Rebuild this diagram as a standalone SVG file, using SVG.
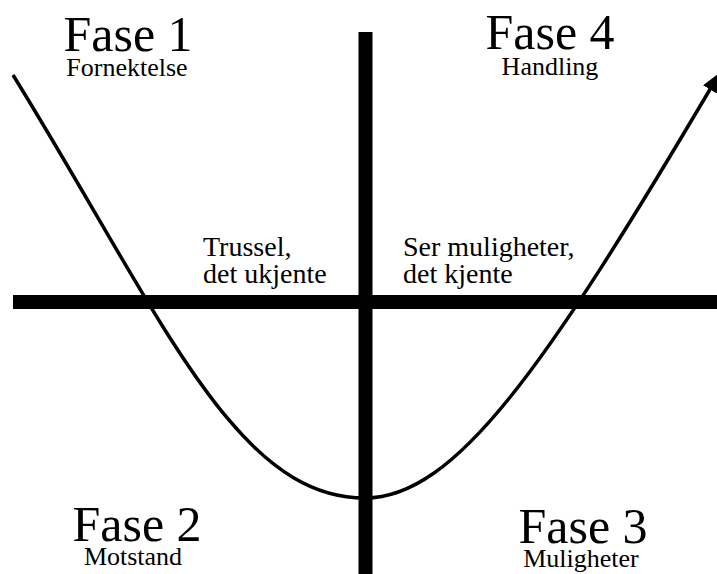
<svg xmlns="http://www.w3.org/2000/svg" width="717" height="574" viewBox="0 0 717 574">
<style>
text{font-family:'Liberation Serif','DejaVu Serif',serif;fill:#000}
.big{font-size:50px;text-anchor:middle}
.sub{font-size:26px;text-anchor:middle}
.mid{font-size:28px}
.axis{stroke:#000;stroke-width:14;fill:none}
.curve{stroke:#000;stroke-width:3.5;fill:none}
</style>
<defs>
<marker id="arrow" markerUnits="userSpaceOnUse" viewBox="0 0 20 16" markerWidth="20" markerHeight="16" refX="4" refY="8" orient="auto">
<path d="M0,0 L20,8 L0,16 z" fill="#000"/>
</marker>
</defs>
<g id="connectors">
<line class="axis" x1="365.5" y1="32" x2="365.5" y2="574"/>
<line class="axis" x1="13" y1="302" x2="717" y2="302"/>
<path class="curve" d="M13,75 C163,318 235,498 365,498 C455,498 545,368 712,86" marker-end="url(#arrow)"/>
</g>
<g id="fase1"><text class="big" x="128" y="51" font-family="Liberation Serif, serif">Fase 1</text><text class="sub" x="127" y="76" font-family="Liberation Serif, serif">Fornektelse</text></g>
<g id="fase4"><text class="big" x="550" y="49">Fase 4</text><text class="sub" x="550" y="75">Handling</text></g>
<g id="fase2"><text class="big" x="137" y="541">Fase 2</text><text class="sub" x="133" y="565">Motstand</text></g>
<g id="fase3"><text class="big" x="583" y="543">Fase 3</text><text class="sub" x="581" y="567">Muligheter</text></g>
<g id="trussel"><text class="mid" x="203" y="256">Trussel,</text><text class="mid" x="203" y="283">det ukjente</text></g>
<g id="muligheter"><text class="mid" x="403" y="256">Ser muligheter,</text><text class="mid" x="403" y="283">det kjente</text></g>
</svg>
